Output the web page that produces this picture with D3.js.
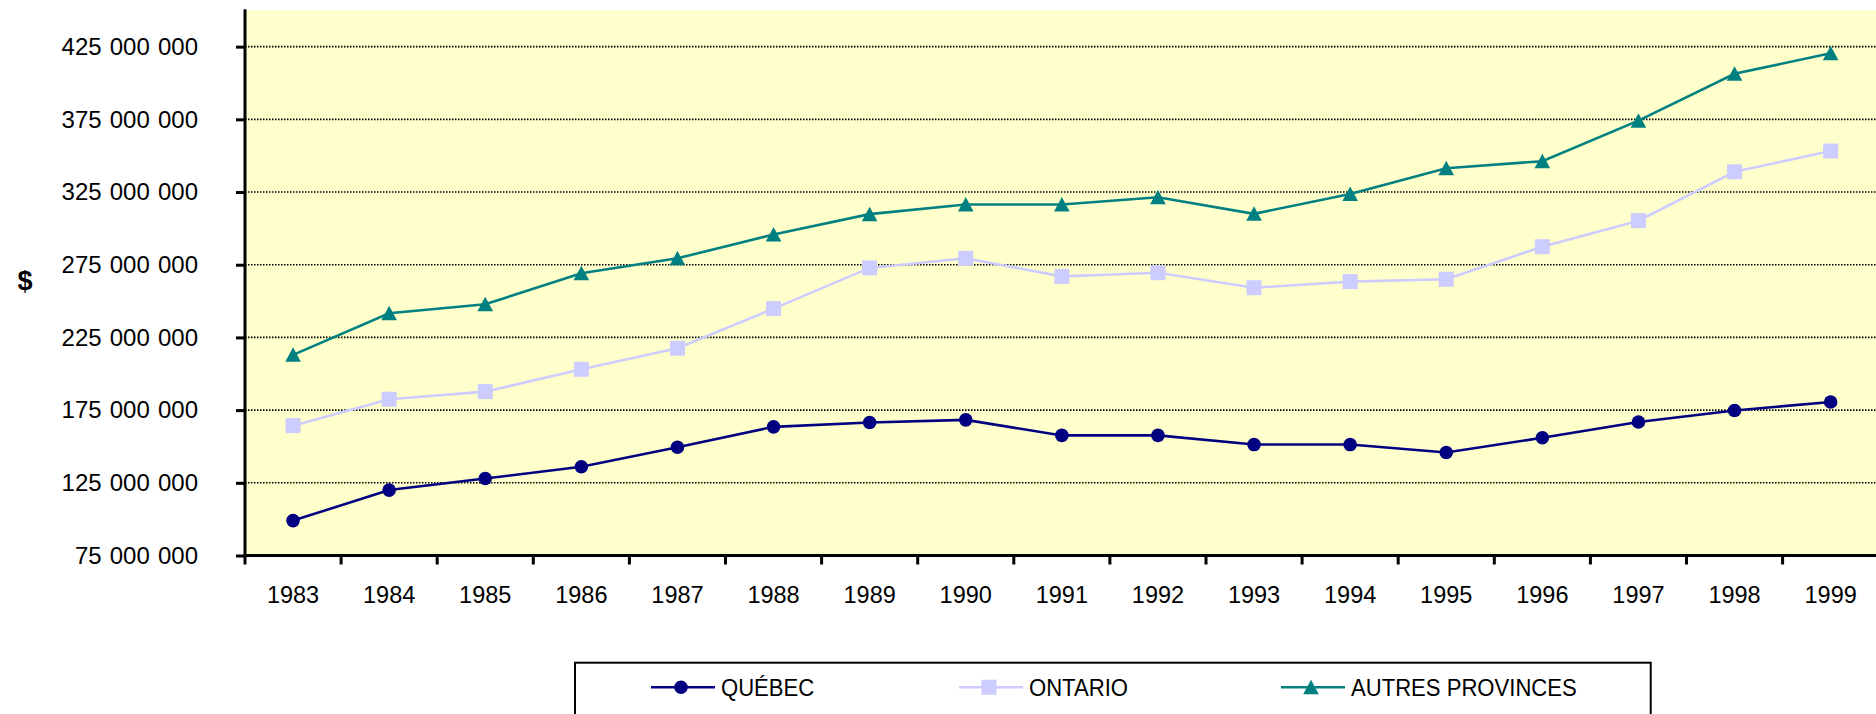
<!DOCTYPE html>
<html>
<head>
<meta charset="utf-8">
<script src="https://cdn.jsdelivr.net/npm/d3@7"></script>
<style>
  body { margin: 0; background: #fff; }
  svg { display: block; font-family: "Liberation Sans", Arial, sans-serif; }
</style>
</head>
<body>
<svg id="chart" width="1876" height="714"></svg>
<script>
// data (millions of dollars)
const years = ["1983","1984","1985","1986","1987","1988","1989","1990","1991","1992","1993","1994","1995","1996","1997","1998","1999"]
const quebec = [99, 120, 128, 136, 149.5, 163.5, 166.5, 168.3, 157.6, 157.6, 151.3, 151.3, 145.8, 156, 166.8, 174.7, 180.6]
const ontario = [164.3, 182.5, 187.7, 203.1, 217.6, 244.8, 272.8, 279.4, 267, 269.5, 259.2, 263.4, 265, 287.4, 305.3, 338.9, 353.2]
const autres = [213, 241.6, 247.8, 269.2, 279.4, 295.8, 309.8, 316.4, 316.4, 321.4, 310, 323.7, 341.4, 346.2, 374.1, 406.3, 420.5]
const seriesNames = ["QUÉBEC", "ONTARIO", "AUTRES PROVINCES"]
const yTicks = [75, 125, 175, 225, 275, 325, 375, 425]
const yTickLabels = ["75 000 000","125 000 000","175 000 000","225 000 000","275 000 000","325 000 000","375 000 000","425 000 000"]
const yMax = 450

const margin = {left: 245, top: 10.3, bottom: 158.5}
const width = 17 * 96.1
const height = 714 - margin.top - margin.bottom

const svg = d3.select("#chart")
const g = svg.append("g").attr("transform", `translate(${margin.left},${margin.top})`)

const x = d3.scaleBand().domain(years).range([0, width])
const y = d3.scaleLinear().domain([75, yMax]).range([height, 0])

const series = [
  {name: seriesNames[0], values: quebec, color: "#000080", marker: "circle"},
  {name: seriesNames[1], values: ontario, color: "#CCCCFF", marker: "square"},
  {name: seriesNames[2], values: autres, color: "#008080", marker: "triangle"},
]

// plot background
g.append("rect").attr("width", width).attr("height", height).attr("fill", "#FFFFCC")

// gridlines
g.selectAll(".grid").data(yTicks.slice(1)).join("line")
  .attr("x1", 0).attr("x2", width)
  .attr("y1", d => y(d)).attr("y2", d => y(d))
  .attr("stroke", "#000").attr("stroke-width", 1.6)
  .attr("stroke-dasharray", "1.5,1.5")

// lines + markers
const line = d3.line().x((d, i) => x(years[i]) + x.bandwidth() / 2).y(d => y(d))

function drawMarker(sel, type, color) {
  if (type === "circle") {
    sel.append("circle").attr("r", 6.8).attr("fill", color)
  } else if (type === "square") {
    sel.append("rect").attr("x", -7.5).attr("y", -7.5).attr("width", 15).attr("height", 15).attr("fill", color)
  } else {
    sel.append("path").attr("d", "M0,-7.5L7.8,7L-7.8,7Z").attr("fill", color)
  }
}

series.forEach(s => {
  g.append("path").attr("d", line(s.values)).attr("fill", "none")
    .attr("stroke", s.color).attr("stroke-width", 2.6)
  s.values.forEach((v, i) => {
    const m = g.append("g").attr("transform", `translate(${x(years[i]) + x.bandwidth() / 2},${y(v)})`)
    drawMarker(m, s.marker, s.color)
  })
})

// y axis
const yAxis = g.append("g").call(
  d3.axisLeft(y).tickValues(yTicks).tickSize(9).tickPadding(38)
    .tickFormat((d, i) => yTickLabels[i])
)
yAxis.select(".domain").remove()
yAxis.selectAll(".tick line").attr("stroke", "#000").attr("stroke-width", 3)
yAxis.selectAll(".tick text").attr("font-size", 24).attr("fill", "#000")
  .attr("word-spacing", 1.5)
  .attr("font-family", "'Liberation Sans', Arial, sans-serif")

// x axis: ticks between categories
const xAxis = g.append("g").attr("transform", `translate(0,${height})`).call(
  d3.axisBottom(x).tickSize(9).tickPadding(22)
)
xAxis.select(".domain").remove()
xAxis.selectAll(".tick line").attr("stroke", "#000").attr("stroke-width", 3)
  .attr("transform", `translate(${-x.bandwidth() / 2},0)`)
xAxis.selectAll(".tick text").attr("font-size", 23.5).attr("fill", "#000")
  .attr("font-family", "'Liberation Sans', Arial, sans-serif")

// axis lines
g.append("line").attr("x1", 0).attr("x2", 0).attr("y1", y(yMax) - 1).attr("y2", height)
  .attr("stroke", "#000").attr("stroke-width", 3)
g.append("line").attr("x1", -1.5).attr("x2", width).attr("y1", height).attr("y2", height)
  .attr("stroke", "#000").attr("stroke-width", 3)

// y title
svg.append("text").attr("x", 25).attr("y", 290).attr("text-anchor", "middle")
  .attr("font-size", 27).attr("font-weight", "bold").text("$")

// legend
const legend = svg.append("g").attr("transform", "translate(575,662.7)")
legend.append("rect").attr("width", 1075.7).attr("height", 70)
  .attr("fill", "#fff").attr("stroke", "#000").attr("stroke-width", 2)
const legendX = [76, 384, 706]
series.forEach((s, i) => {
  const it = legend.append("g").attr("transform", `translate(${legendX[i]},24.5)`)
  it.append("line").attr("x1", 0).attr("x2", 64).attr("stroke", s.color).attr("stroke-width", 2.5)
  drawMarker(it.append("g").attr("transform", "translate(30,0)"), s.marker, s.color)
  it.append("text").attr("x", 70).attr("y", 8.5).attr("font-size", 23.5).attr("fill", "#000")
    .attr("transform", "translate(70,0) scale(0.94,1) translate(-70,0)")
    .text(s.name)
})
</script>
</body>
</html>
